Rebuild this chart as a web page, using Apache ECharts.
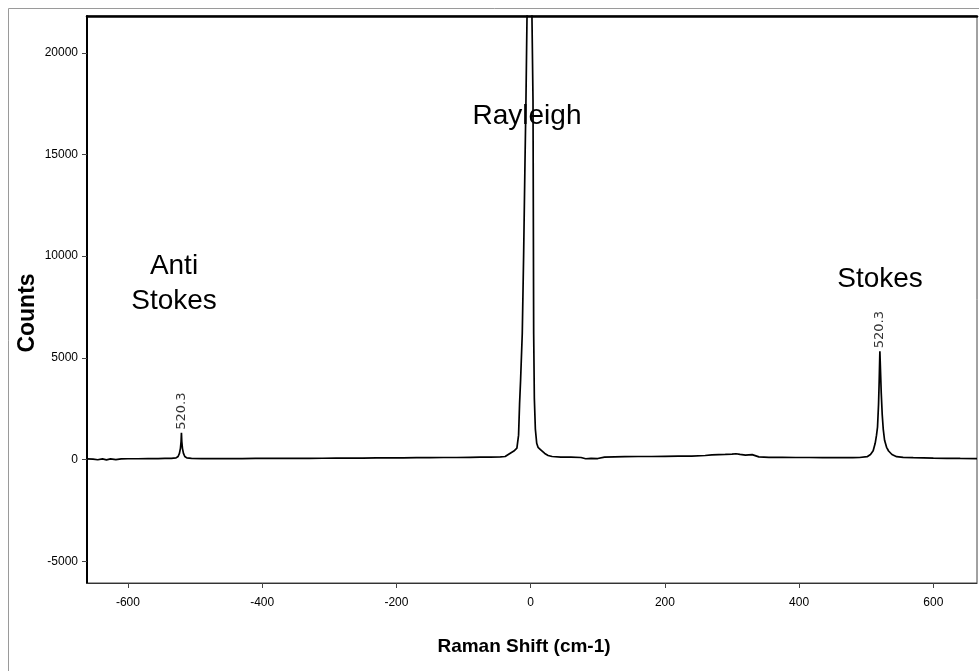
<!DOCTYPE html>
<html>
<head>
<meta charset="utf-8">
<title>Raman spectrum</title>
<script src="https://cdn.jsdelivr.net/npm/echarts@6/dist/echarts.min.js"></script>
<style>
  html, body { margin: 0; padding: 0; background: #fff; }
  #chart { width: 979px; height: 671px; }
</style>
</head>
<body>
<div id="chart"></div>
<script>
// Raman shift (cm-1) and detector counts of the measured spectrum
const ramanShift = [
  -661, -652, -645, -638, -632, -626, -618, -610, -600, -585, -570, -555, -545, -535.3,
  -528.3, -525.3, -523.3, -521.8, -520.8, -520.3, -519.8, -518.8, -517.3, -515.3, -512.3, -505.3,
  -490, -470, -450, -430, -410, -390, -370, -350, -330, -310, -290, -270, -250, -230, -210,
  -190, -170, -150, -130, -110, -90, -75, -60, -45,
  -38, -31, -25, -20.5, -18, -16.5, -15, -12.5, -10.5, -8.5, -7, -5.5, -3, -1, 1, 2, 3.5,
  4.5, 5.5, 7, 9, 11, 15, 21, 26, 32, 45, 60,
  75, 82, 90, 100, 110, 125, 140, 160, 180, 200, 220, 240, 260, 270, 280, 290, 300, 306,
  312, 320, 330, 340, 355, 375, 395, 415, 435, 455, 470, 480, 490,
  501.3, 506.3, 510.3, 513.3, 515.3, 516.8, 518.3, 519.3, 520.3, 521.3, 522.3, 523.8,
  525.3, 527.3, 530.3, 533.3, 538.3, 545.3, 555,
  570, 585, 600, 620, 640, 665
];
const counts = [
  30, 25, -10, 35, -15, 30, -5, 30, 40, 40, 45, 45, 55, 60,
  80, 150, 300, 550, 900, 1320, 900, 550, 300, 150, 80, 60,
  50, 45, 50, 50, 55, 55, 60, 55, 60, 65, 70, 75, 70, 80, 85,
  80, 90, 95, 100, 100, 110, 115, 115, 130,
  150, 300, 420, 560, 1200, 2750, 3900, 6200, 10000, 14500, 17650, 21600, 25000, 27000, 25000, 21600, 17650,
  6200, 3000, 1500, 800, 600, 480, 300, 200, 150, 120, 115,
  100, 40, 60, 50, 120, 130, 140, 150, 150, 160, 165, 170, 200, 230, 240, 250, 270, 285,
  255, 220, 240, 130, 110, 110, 100, 100, 95, 90, 90, 95, 100,
  140, 250, 430, 800, 1200, 1600, 2700, 3900, 5325, 4300, 3300, 2200,
  1500, 950, 600, 420, 250, 140, 110,
  90, 80, 70, 60, 55, 50
];

// Labelled silicon phonon peaks (anti-Stokes and Stokes)
const peakShift = [-520.3, 520.3];
const peakCounts = [1320, 5325];

// Axis ticks
const xTicks = [-600, -400, -200, 0, 200, 400, 600];
const yTicks = [-5000, 0, 5000, 10000, 15000, 20000];

const tickFont = "'Liberation Sans', Arial, sans-serif";
const textFont = "'Liberation Sans', Arial, sans-serif";

const chart = echarts.init(document.getElementById('chart'), null, { renderer: 'canvas' });

const option = {
  backgroundColor: '#ffffff',
  animation: false,
  grid: { left: 87, top: 16, right: 2, bottom: 88, show: true, borderColor: '#444', borderWidth: 1 },
  xAxis: [{
    type: 'value',
    min: -661,
    max: 665,
    axisLine: { show: true, onZero: false, lineStyle: { color: '#333', width: 1.2 } },
    axisTick: { show: true, customValues: xTicks, length: 5, lineStyle: { color: '#444' } },
    axisLabel: {
      show: true, customValues: xTicks, margin: 14,
      formatter: v => String(v),
      fontFamily: tickFont, fontSize: 12, color: '#000'
    },
    splitLine: { show: false }
  }, {
    type: 'value',
    position: 'top',
    min: -661,
    max: 665,
    axisLine: { show: true, onZero: false, lineStyle: { color: '#000', width: 2.5 } },
    axisTick: { show: false },
    axisLabel: { show: false },
    splitLine: { show: false }
  }],
  yAxis: {
    type: 'value',
    min: -6070,
    max: 21810,
    axisLine: { show: true, onZero: false, lineStyle: { color: '#000', width: 2 } },
    axisTick: { show: true, customValues: yTicks, length: 5, lineStyle: { color: '#444' } },
    axisLabel: {
      show: true, customValues: yTicks, margin: 9,
      formatter: v => String(v),
      fontFamily: tickFont, fontSize: 12, color: '#000'
    },
    splitLine: { show: false }
  },
  graphic: [
    { type: 'rect', z: -1, shape: { x: 8.5, y: 8.5, width: 1000, height: 1000 },
      style: { fill: 'none', stroke: '#9a9a9a', lineWidth: 1 } },
    { type: 'text', x: 28, y: 313, rotation: Math.PI / 2,
      style: { text: 'Counts', align: 'center', verticalAlign: 'middle', font: 'bold 23px ' + textFont, fill: '#000' } },
    { type: 'text', x: 524, y: 647,
      style: { text: 'Raman Shift (cm-1)', align: 'center', verticalAlign: 'middle', font: 'bold 19px ' + textFont, fill: '#000' } },
    { type: 'text', x: 527, y: 116,
      style: { text: 'Rayleigh', align: 'center', verticalAlign: 'middle', font: '28px ' + textFont, fill: '#000' } },
    { type: 'text', x: 174, y: 284,
      style: { text: 'Anti\nStokes', align: 'center', verticalAlign: 'middle', lineHeight: 35, font: '28px ' + textFont, fill: '#000' } },
    { type: 'text', x: 880, y: 279,
      style: { text: 'Stokes', align: 'center', verticalAlign: 'middle', font: '28px ' + textFont, fill: '#000' } }
  ],
  series: [{
    type: 'line',
    xAxisIndex: 0,
    data: ramanShift.map((x, i) => [x, counts[i]]),
    showSymbol: false,
    symbol: 'none',
    smooth: false,
    clip: true,
    lineStyle: { color: '#000', width: 1.7 },
    z: 3
  }, {
    type: 'scatter',
    xAxisIndex: 0,
    data: peakShift.map((x, i) => [x, peakCounts[i]]),
    symbolSize: 0,
    silent: true,
    label: {
      show: true,
      position: 'top',
      distance: 3,
      rotate: 90,
      align: 'left',
      verticalAlign: 'middle',
      formatter: p => Math.abs(p.value[0]).toFixed(1),
      fontFamily: "'DejaVu Sans', sans-serif",
      fontSize: 13,
      color: '#000'
    },
    z: 4
  }]
};

chart.setOption(option);
</script>
</body>
</html>
